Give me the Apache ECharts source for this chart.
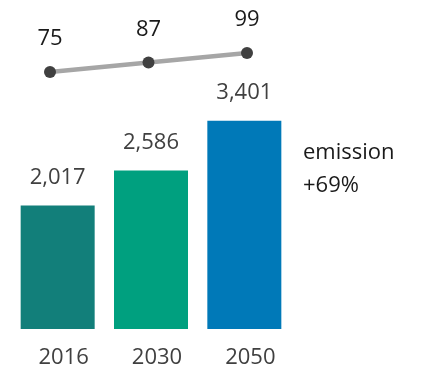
<!DOCTYPE html>
<html>
<head>
<meta charset="utf-8">
<script src="https://cdn.jsdelivr.net/npm/echarts@6/dist/echarts.min.js"></script>
<style>
  html, body { margin: 0; padding: 0; background: #fff; }
  #chart { width: 421px; height: 369px; }
</style>
</head>
<body>
<div id="chart"></div>
<script>
// Years shown under the bars
const years = ['2016', '2030', '2050'];
// Emission totals per year (bars)
const emissions = [2017, 2586, 3401];
// Index values per year (line above the bars)
const indexValues = [75, 87, 99];
// Bar fill per year
const barColors = ['#127F7A', '#00A07F', '#0079B8'];
// Side note
const noteLines = ['emission', '+69%'];

const FONT = '"Open Sans", "Liberation Sans", sans-serif';
const fmt = v => v.toLocaleString('en-US');

const chart = echarts.init(document.getElementById('chart'), null, { renderer: 'canvas' });

chart.setOption({
  animation: false,
  backgroundColor: '#ffffff',
  grid: [
    { left: 11, width: 280, top: 84, bottom: 38 },
    { left: 0.75, width: 295.5, top: 52.2, bottom: 237.8 }
  ],
  xAxis: [
    {
      type: 'category', gridIndex: 0, data: years,
      axisLine: { show: false }, axisTick: { show: false },
      axisLabel: {
        color: '#404040', fontFamily: FONT, fontSize: 22,
        verticalAlign: 'middle', margin: 29, padding: [0, 0, 0, 12]
      }
    },
    {
      type: 'category', gridIndex: 1, data: years, show: false
    }
  ],
  yAxis: [
    { type: 'value', gridIndex: 0, min: 0, max: 4000, show: false, splitLine: { show: false } },
    { type: 'value', gridIndex: 1, min: 0, max: 100, show: false, splitLine: { show: false } }
  ],
  series: [
    {
      type: 'bar', xAxisIndex: 0, yAxisIndex: 0, barWidth: 74,
      data: emissions.map((v, i) => ({ value: v, itemStyle: { color: barColors[i] } })),
      label: {
        show: true, position: 'top', distance: 17,
        color: '#404040', fontFamily: FONT, fontSize: 22, lineHeight: 22,
        formatter: p => fmt(p.value)
      }
    },
    {
      type: 'line', xAxisIndex: 1, yAxisIndex: 1, data: indexValues,
      symbol: 'circle', symbolSize: 12,
      lineStyle: { color: '#A6A6A6', width: 4.5 },
      itemStyle: { color: '#404040' },
      label: {
        show: true, position: 'top', distance: 16,
        color: '#1a1a1a', fontFamily: FONT, fontSize: 22, lineHeight: 22
      },
      z: 3
    }
  ],
  graphic: noteLines.map((t, i) => ({
    type: 'text', left: 303, top: 142 + i * 33,
    style: { text: t, fill: '#1a1a1a', font: '22px ' + FONT }
  }))
});
</script>
</body>
</html>
